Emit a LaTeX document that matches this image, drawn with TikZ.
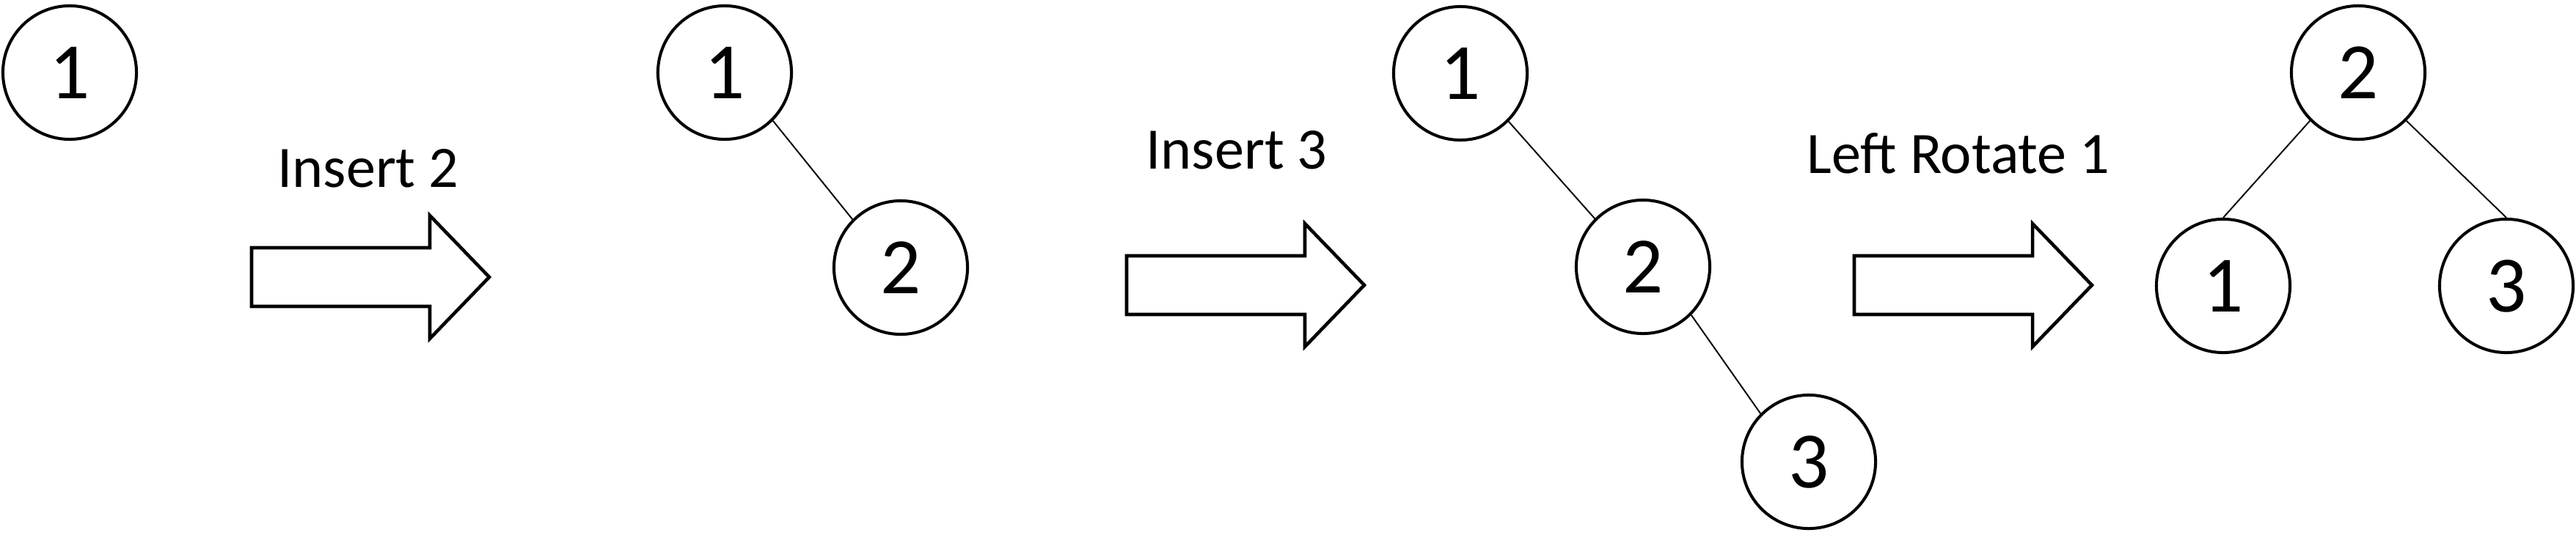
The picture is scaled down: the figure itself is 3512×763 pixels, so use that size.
\documentclass[tikz,border=0pt]{standalone}
\usepackage{fontspec}
\setmainfont{Carlito}
\begin{document}
\begin{tikzpicture}[x=0.01cm,y=-0.01cm,
  tnode/.style={circle, draw, line width=1.15pt, minimum size=1.82cm, inner sep=0pt, font=\fontsize{31}{31}\selectfont},
  edge/.style={line width=0.55pt},
  arrowline/.style={line width=1.3pt, fill=white, line join=miter},
  lbl/.style={anchor=base, inner sep=0pt, font=\fontsize{22.8}{24}\selectfont},
  blockarrow/.pic={\draw[arrowline] (0,-40) -- (243,-40) -- (243,-84) -- (324,0) -- (243,84) -- (243,40) -- (0,40) -- cycle;}]
\useasboundingbox (0,0) rectangle (3512,763);

% stage 1
\node[tnode] (a1) at (95,99) {1};

% arrow 1
\node[lbl] (l1) at (502,255) {Insert 2};
\pic at (343,378) {blockarrow};

% stage 2
\node[tnode] (b1) at (988,99) {1};
\node[tnode] (b2) at (1228,365) {2};
\draw[edge] (b1.south east) -- (b2.north west);

% arrow 2
\node[lbl] (l2) at (1686,230) {Insert 3};
\pic at (1536,389) {blockarrow};

% stage 3
\node[tnode] (c1) at (1991,100) {1};
\node[tnode] (c2) at (2240,364) {2};
\node[tnode] (c3) at (2466,630) {3};
\draw[edge] (c1.south east) -- (c2.north west);
\draw[edge] (c2.south east) -- (c3.north west);

% arrow 3
\node[lbl] (l3) at (2670,236) {Left Rotate 1};
\pic at (2528,389) {blockarrow};

% stage 4
\node[tnode] (d2) at (3215,99) {2};
\node[tnode] (d1) at (3031,390) {1};
\node[tnode] (d3) at (3417,390) {3};
\draw[edge] (d2.south west) -- (d1.north);
\draw[edge] (d2.south east) -- (d3.north);
\end{tikzpicture}
\end{document}
